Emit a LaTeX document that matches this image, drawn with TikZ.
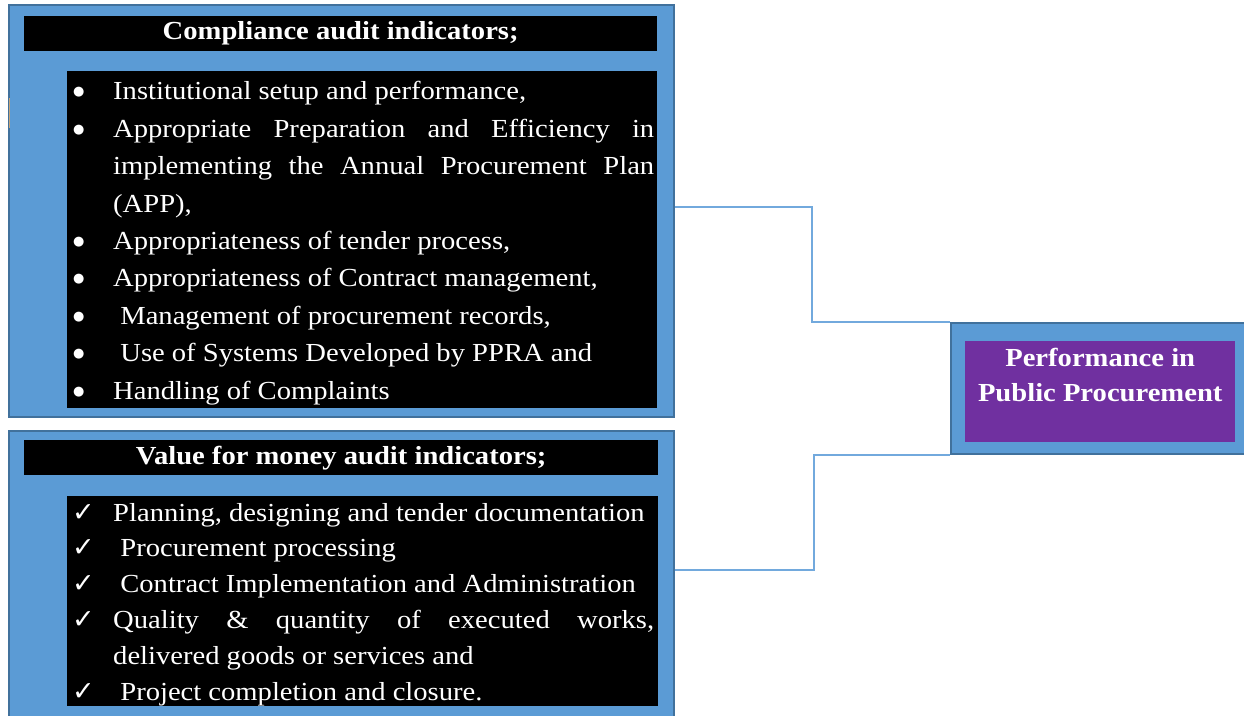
\documentclass[tikz,border=0pt]{standalone}
\usepackage{fontspec}
\setmainfont[FakeStretch=1.1]{Liberation Serif}
\newfontfamily\symfont{DejaVu Sans}
\definecolor{panelblue}{HTML}{5B9BD5}
\definecolor{edgeblue}{HTML}{41719C}
\definecolor{linkblue}{HTML}{72A9DD}
\definecolor{perfpurple}{HTML}{7030A0}
\hyphenpenalty=10000
\exhyphenpenalty=10000
\newcommand{\bulletline}[1]{\par\hangindent=43pt\hangafter=1\noindent\strut\makebox[43pt][l]{\hspace{3pt}\raisebox{4pt}{\symfont\fontsize{13}{13}\selectfont ●}}#1\par}
\newcommand{\tickline}[1]{\par\hangindent=43pt\hangafter=1\noindent\strut\makebox[43pt][l]{\hspace{2pt}{\symfont\fontsize{27}{27}\selectfont ✓}}#1\par}

\begin{document}
\begin{tikzpicture}[x=1pt,y=-1pt,
    panel/.style={draw=edgeblue,line width=2pt,fill=panelblue,anchor=north west,inner sep=0pt},
    blackbar/.style={fill=black,anchor=north west,inner sep=0pt},
    heading/.style={fill=black,text=white,inner sep=0pt,font=\fontsize{26}{30}\selectfont\bfseries},
    listtext/.style={anchor=north west,text=white,inner xsep=3pt,text width=584pt,align=justify,yshift=11pt},
    link/.style={draw=linkblue,line width=1.5pt}]
  \useasboundingbox (0,0) rectangle (1244,715);

  \node[panel,minimum width=665pt,minimum height=412pt] (cmpOuter) at (8,4) {};
  \node[heading,minimum width=633pt,minimum height=35pt,anchor=north west] (cmpHead) at (24,16) {Compliance audit indicators;};
  \node[blackbar,minimum width=590pt,minimum height=337pt] (cmpList) at (67,71) {};
  \node[listtext,inner ysep=2.3pt,font=\fontsize{26}{37.4}\selectfont] (cmpText) at (cmpList.north west) {%
    \bulletline{Institutional setup and performance,}
    \bulletline{Appropriate Preparation and Efficiency in implementing the Annual Procurement Plan (APP),}
    \bulletline{Appropriateness of tender process,}
    \bulletline{Appropriateness of Contract management,}
    \bulletline{\ Management of procurement records,}
    \bulletline{\ Use of Systems Developed by PPRA and}
    \bulletline{Handling of Complaints}};
  \draw[color={rgb,255:red,200;green,165;blue,120},line width=1pt] (9,98) -- (9,128);

  \node[panel,minimum width=665pt,minimum height=290pt] (vfmOuter) at (8,430) {};
  \node[heading,minimum width=634pt,minimum height=35pt,anchor=north west] (vfmHead) at (24,440) {Value for money audit indicators;};
  \node[blackbar,minimum width=591pt,minimum height=210pt] (vfmList) at (67,496) {};
  \node[listtext,inner ysep=0pt,font=\fontsize{26}{35.8}\selectfont] (vfmText) at (vfmList.north west) {%
    \tickline{Planning, designing and tender documentation}
    \tickline{\ Procurement processing}
    \tickline{\ Contract Implementation and Administration}
    \tickline{Quality \& quantity of executed works,\linebreak delivered goods or services and}
    \tickline{\ Project completion and closure.}};

  \node[panel,minimum width=298pt,minimum height=131pt] (perfOuter) at (950,322) {};
  \node[fill=perfpurple,anchor=north west,inner sep=0pt,minimum width=270pt,minimum height=101pt] (perfBox) at (965,341) {};
  \node[anchor=north,text=white,inner xsep=0pt,inner ysep=1.7pt,align=center,font=\fontsize{26}{34.3}\selectfont\bfseries] (perfText) at (perfBox.north) {\strut Performance in\\Public Procurement};

  \draw[link] ([yshift=4pt]cmpOuter.east) -- ++(137,0) |- (perfOuter.north west);
  \draw[link] ([yshift=6pt]vfmOuter.east) -- ++(139,0) |- (perfOuter.south west);
\end{tikzpicture}
\end{document}
